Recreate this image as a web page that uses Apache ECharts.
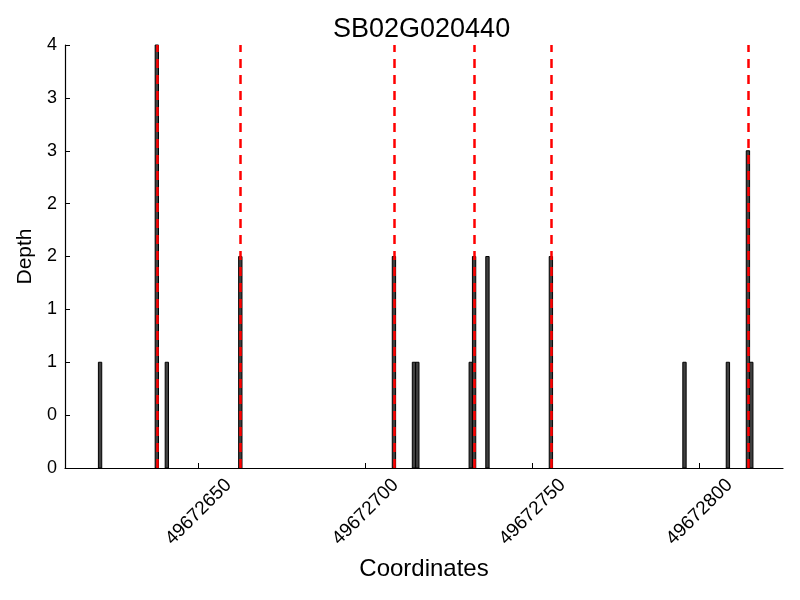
<!DOCTYPE html>
<html>
<head>
<meta charset="utf-8">
<script src="https://cdn.jsdelivr.net/npm/echarts@6/dist/echarts.min.js"></script>
<style>html,body{margin:0;padding:0;background:#fff}#c{width:800px;height:600px}</style>
</head>
<body>
<div id="c"></div>
<script>
// Bar start coordinates (each bar spans 1 coordinate unit) and depths
const barCoords = [49672620, 49672637, 49672640, 49672662, 49672708, 49672714, 49672715, 49672731, 49672732, 49672736, 49672755, 49672795, 49672808, 49672814, 49672815];
const barDepths = [1, 4, 1, 2, 2, 1, 1, 1, 2, 2, 2, 1, 1, 3, 1];
// Red dashed marker lines
const markerCoords = [49672637.5, 49672662.5, 49672708.5, 49672732.5, 49672755.5, 49672814.5];
// Tick labels
const xTickValues = [49672650, 49672700, 49672750, 49672800];
const yTickLabels = ['0', '0', '1', '1', '2', '2', '3', '3', '4'];

const FONT = '"Liberation Sans", Arial, Helvetica, sans-serif';
const chart = echarts.init(document.getElementById('c'), null, {renderer: 'canvas'});
chart.setOption({
  animation: false,
  backgroundColor: '#fff',
  title: {
    text: 'SB02G020440',
    left: 328, top: 11,
    textStyle: {fontFamily: FONT, fontSize: 27, fontWeight: 'normal', color: '#000'}
  },
  grid: {left: 65, right: 17, top: 45, bottom: 132, containLabel: false, outerBoundsMode: 'none'},
  xAxis: {
    type: 'value', min: 49672610, max: 49672825,
    name: 'Coordinates', nameLocation: 'middle', nameGap: 89,
    nameTextStyle: {fontFamily: FONT, fontSize: 24, color: '#000'},
    axisLine: {show: true, onZero: false, lineStyle: {color: '#000', width: 1.2}},
    axisTick: {show: true, inside: true, length: 5, customValues: xTickValues, lineStyle: {color: '#000'}},
    axisLabel: {
      customValues: xTickValues, rotate: 45, margin: 44, align: 'center', verticalAlign: 'middle',
      fontFamily: FONT, fontSize: 19, color: '#000', formatter: v => String(v)
    },
    splitLine: {show: false}
  },
  yAxis: {
    type: 'value', min: 0, max: 4, interval: 0.5,
    name: 'Depth', nameLocation: 'middle', nameGap: 28, nameRotate: 90,
    nameTextStyle: {fontFamily: FONT, fontSize: 21, color: '#000'},
    axisLine: {show: true, lineStyle: {color: '#000', width: 1.2}},
    axisTick: {show: true, inside: true, length: 5, lineStyle: {color: '#000'}},
    axisLabel: {
      margin: 8, fontFamily: FONT, fontSize: 18, color: '#000',
      formatter: v => yTickLabels[Math.round(v / 0.5)]
    },
    splitLine: {show: false}
  },
  series: [
    {
      type: 'custom',
      data: barCoords.map((c, i) => [c, barDepths[i]]),
      encode: {x: 0, y: 1},
      z: 2,
      renderItem: (params, api) => {
        const x = api.value(0), h = api.value(1);
        const p0 = api.coord([x, h]);
        const p1 = api.coord([x + 1, 0]);
        return {
          type: 'rect',
          shape: {x: p0[0], y: p0[1], width: p1[0] - p0[0], height: p1[1] - p0[1]},
          style: {fill: '#404040', stroke: '#000', lineWidth: 1}
        };
      }
    },
    {
      type: 'line', data: [], z: 10,
      markLine: {
        silent: true, symbol: ['none', 'none'], animation: false,
        label: {show: false},
        lineStyle: {color: '#ff0000', type: [9, 7], width: 2.5},
        data: markerCoords.map(v => ({xAxis: v}))
      }
    }
  ]
});
</script>
</body>
</html>
